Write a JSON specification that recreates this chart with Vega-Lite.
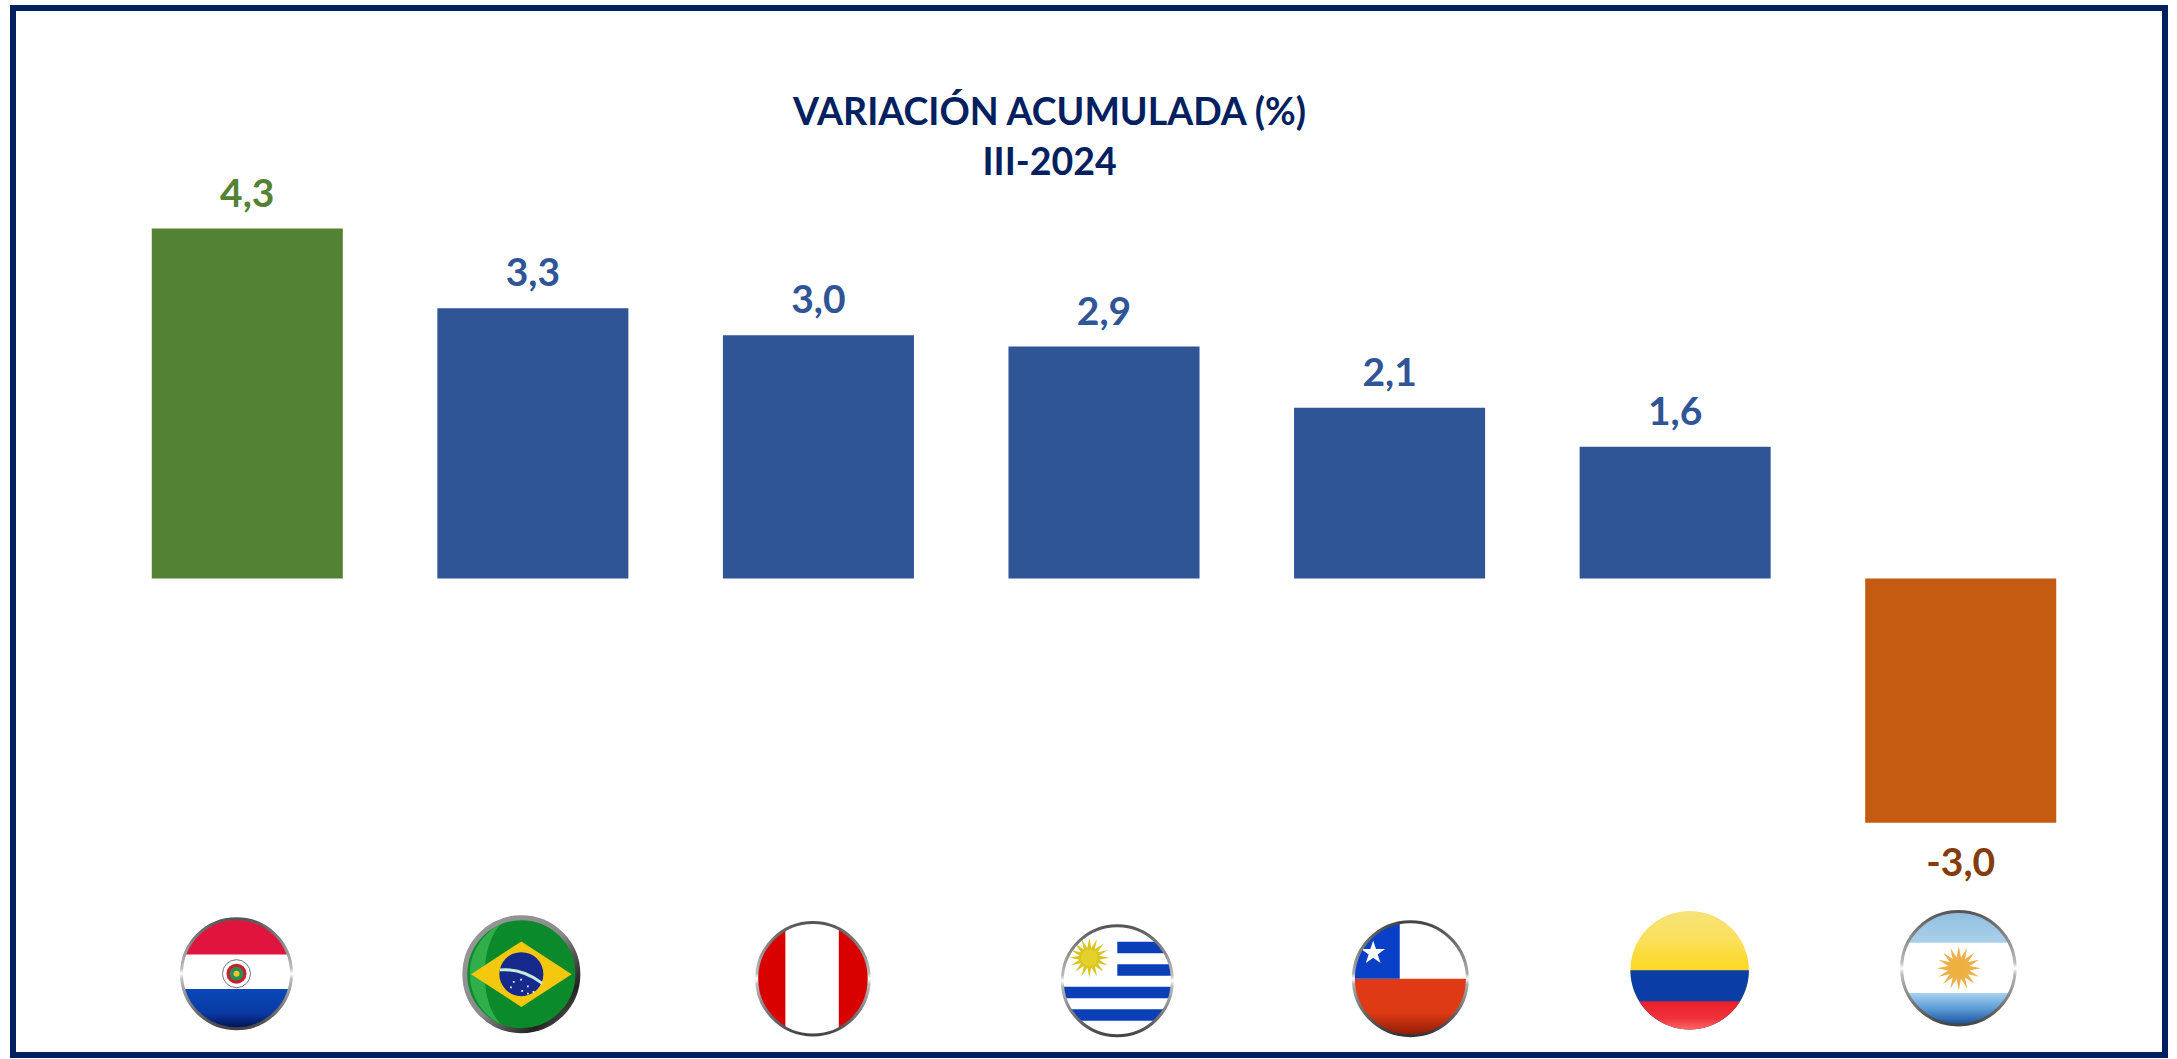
{"$schema":"https://vega.github.io/schema/vega-lite/v6.json","width":2152,"height":1047,"autosize":{"type":"none"},"padding":{"left":13,"top":8,"right":12,"bottom":4},"background":"#ffffff","view":{"stroke":"#002060","strokeWidth":6,"fill":"#ffffff"},"config":{"point":{"opacity":1,"filled":true}},"title":{"text":["VARIACIÓN ACUMULADA (%)","III-2024"],"font":"Lato","fontSize":37.5,"fontWeight":"bold","color":"#002060","anchor":"middle","frame":"group","dx":-39.4,"dy":204,"lineHeight":50,"offset":0,"baseline":"alphabetic"},"data":{"values":[{"pais":"Paraguay","valor":4.3,"etiqueta":"4,3","categoria":"máximo"},{"pais":"Brasil","valor":3.32,"etiqueta":"3,3","categoria":"positivo"},{"pais":"Perú","valor":2.99,"etiqueta":"3,0","categoria":"positivo"},{"pais":"Uruguay","valor":2.85,"etiqueta":"2,9","categoria":"positivo"},{"pais":"Chile","valor":2.1,"etiqueta":"2,1","categoria":"positivo"},{"pais":"Colombia","valor":1.62,"etiqueta":"1,6","categoria":"positivo"},{"pais":"Argentina","valor":-3.0,"etiqueta":"-3,0","categoria":"negativo"}]},"encoding":{"x":{"field":"pais","type":"nominal","sort":null,"axis":null,"scale":{"type":"band","domain":["Paraguay","Brasil","Perú","Uruguay","Chile","Colombia","Argentina"],"range":[91.5,2090.5],"paddingInner":0.331,"paddingOuter":0.1655}}},"resolve":{"scale":{"color":"independent"}},"layer":[{"mark":{"type":"bar"},"encoding":{"y":{"field":"valor","type":"quantitative","axis":null,"scale":{"domain":[-5.853,7.01],"nice":false,"zero":false}},"color":{"field":"categoria","type":"nominal","legend":null,"scale":{"domain":["máximo","positivo","negativo"],"range":["#548235","#2F5597","#C55A11"]}}}},{"transform":[{"filter":"datum.valor > 0"}],"mark":{"type":"text","font":"Lato","fontWeight":"bold","fontSize":39,"align":"center","baseline":"alphabetic","dy":-22},"encoding":{"y":{"field":"valor","type":"quantitative","axis":null},"text":{"field":"etiqueta","type":"nominal"},"color":{"field":"categoria","type":"nominal","legend":null,"scale":{"domain":["máximo","positivo","negativo"],"range":["#548235","#2F5597","#843C0C"]}}}},{"transform":[{"filter":"datum.valor < 0"}],"mark":{"type":"text","font":"Lato","fontWeight":"bold","fontSize":39,"align":"center","baseline":"alphabetic","dy":53,"color":"#843C0C"},"encoding":{"y":{"field":"valor","type":"quantitative","axis":null},"text":{"field":"etiqueta","type":"nominal"}}},
{"data":{"values":[{"pais":"Paraguay"}]},"encoding":{"y":{"datum":-4.854,"type":"quantitative","axis":null}},"layer":[
{"mark":{"type":"point","shape":"circle","size":12100,"xOffset":-10.8,"fill":"#e0143c"}},
{"mark":{"type":"point","shape":"M.937 -.35C1.181 .303 .697 1 0 1C-.697 1 -1.181 .303 -.937 -.35Z","size":12100,"xOffset":-10.8,"fill":"#ffffff"}},
{"mark":{"type":"point","shape":"M.96 .28C.836 .706 .444 1 0 1C-.444 1 -.836 .706 -.96 .28Z","size":12100,"xOffset":-10.8,"fill":{"gradient":"linear","x1":0,"y1":0,"x2":0,"y2":1,"stops":[{"offset":0,"color":"#0a48b8"},{"offset":0.6,"color":"#0a3aa5"},{"offset":1,"color":"#03104f"}]}}},
{"mark":{"type":"point","shape":"circle","size":784,"xOffset":-10.8,"fill":"#ffffff","stroke":"#777777","strokeWidth":1}},
{"mark":{"type":"point","shape":"circle","size":400,"xOffset":-10.8,"fill":"#c8202a"}},
{"mark":{"type":"point","shape":"circle","size":196,"xOffset":-10.8,"fill":"#2e8b57"}},
{"mark":{"type":"point","shape":"circle","size":36,"xOffset":-10.8,"fill":"#e8c820"}},
{"mark":{"type":"point","shape":"circle","size":12100,"xOffset":-10.8,"fill":"transparent","strokeWidth":3,"stroke":{"gradient":"linear","x1":0,"y1":0,"x2":0,"y2":1,"stops":[{"offset":0,"color":"#555555"},{"offset":0.45,"color":"#bbbbbb"},{"offset":0.5,"color":"#ffffff"},{"offset":0.55,"color":"#bbbbbb"},{"offset":1,"color":"#444444"}]}}}]},
{"data":{"values":[{"pais":"Brasil"}]},"encoding":{"y":{"datum":-4.86,"type":"quantitative","axis":null}},"layer":[
{"mark":{"type":"point","shape":"circle","size":12769,"xOffset":-11.5,"fill":"#0a8a2a"}},
{"mark":{"type":"point","shape":"M-.35 -.9C-1.1 -.5 -1.1 .5 -.35 .9C-.75 .5 -.75 -.5 -.35 -.9Z","size":12769,"xOffset":-11.5,"fill":"#2fae4a"}},
{"mark":{"type":"point","shape":"M-.89 0L0 -.58 .89 0 0 .58Z","size":12769,"xOffset":-11.5,"fill":"#f5c70e"}},
{"mark":{"type":"point","shape":"circle","size":1936,"xOffset":-11.5,"fill":"#152a8c"}},
{"mark":{"type":"point","shape":"M-.38 -.1Q.02 -.14 .38 .14L.37 .19Q0 -.08 -.38 -.05Z","size":12769,"xOffset":-11.5,"fill":"#c8ecd8"}},
{"mark":{"type":"point","shape":"M-.15 .12h.03v.03h-.03ZM-.02 .08h.03v.03h-.03ZM.1 .2h.03v.03h-.03ZM-.2 .22h.03v.03h-.03ZM0 .28h.03v.03h-.03ZM.2 .3h.03v.03h-.03ZM.1 .33h.03v.03h-.03Z","size":12769,"xOffset":-11.5,"fill":"#ffffff"}},
{"mark":{"type":"point","shape":"circle","size":12769,"xOffset":-11.5,"fill":"transparent","strokeWidth":5,"stroke":{"gradient":"linear","x1":0,"y1":0,"x2":1,"y2":1,"stops":[{"offset":0,"color":"#9a9a9a"},{"offset":0.5,"color":"#8a8a8a"},{"offset":0.8,"color":"#222222"},{"offset":1,"color":"#777777"}]}}}]},
{"data":{"values":[{"pais":"Perú"}]},"encoding":{"y":{"datum":-4.916,"type":"quantitative","axis":null}},"layer":[
{"mark":{"type":"point","shape":"circle","size":12656,"xOffset":-5.5,"fill":"#ffffff"}},
{"mark":{"type":"point","shape":"M.46 -.888C.792 -.716 1 -.3735 1 0C1 .3735 .792 .716 .46 .888Z","size":12656,"xOffset":-5.5,"fill":"#d90000"}},
{"mark":{"type":"point","shape":"M-.49 -.872C-.805 -.695 -1 -.3615 -1 0C-1 .3615 -.805 .695 -.49 .872Z","size":12656,"xOffset":-5.5,"fill":"#d90000"}},
{"mark":{"type":"point","shape":"circle","size":12656,"xOffset":-5.5,"fill":"transparent","strokeWidth":3,"stroke":{"gradient":"linear","x1":0,"y1":0,"x2":0,"y2":1,"stops":[{"offset":0,"color":"#555555"},{"offset":0.45,"color":"#bbbbbb"},{"offset":0.5,"color":"#ffffff"},{"offset":0.55,"color":"#bbbbbb"},{"offset":1,"color":"#444444"}]}}}]},
{"data":{"values":[{"pais":"Uruguay"}]},"encoding":{"y":{"datum":-4.94,"type":"quantitative","axis":null}},"layer":[
{"mark":{"type":"point","shape":"circle","size":12100,"xOffset":13.3,"fill":"#ffffff"}},
{"mark":{"type":"point","shape":"M0 -.71L.704 -.71L.866 -.5L0 -.5ZM0 -.3L.954 -.3L.996 -.09L0 -.09ZM-.994 .11L.994 .11L.947 .32L-.947 .32ZM-.854 .52L.854 .52L.683 .73L-.683 .73Z","size":12100,"xOffset":13.3,"fill":"#0a3fb8"}},
{"mark":{"type":"point","shape":"M1 0L.49 .098 .924 .383 .416 .278 .707 .707 .278 .416 .383 .924 .098 .49 0 1 -.098 .49 -.383 .924 -.278 .416 -.707 .707 -.416 .278 -.924 .383 -.49 .098 -1 0 -.49 -.098 -.924 -.383 -.416 -.278 -.707 -.707 -.278 -.416 -.383 -.924 -.098 -.49 0 -1 .098 -.49 .383 -.924 .278 -.416 .707 -.707 .416 -.278 .924 -.383 .49 -.098Z","size":1600,"xOffset":-14.7,"yOffset":-23,"fill":"#d9c520"}},
{"mark":{"type":"point","shape":"circle","size":289,"xOffset":-14.7,"yOffset":-23,"fill":"#e3d02c"}},
{"mark":{"type":"point","shape":"circle","size":12100,"xOffset":13.3,"fill":"transparent","strokeWidth":3,"stroke":{"gradient":"linear","x1":0,"y1":0,"x2":0,"y2":1,"stops":[{"offset":0,"color":"#555555"},{"offset":0.45,"color":"#bbbbbb"},{"offset":0.5,"color":"#ffffff"},{"offset":0.55,"color":"#bbbbbb"},{"offset":1,"color":"#444444"}]}}}]},
{"data":{"values":[{"pais":"Chile"}]},"encoding":{"y":{"datum":-4.916,"type":"quantitative","axis":null}},"layer":[
{"mark":{"type":"point","shape":"circle","size":12996,"xOffset":20.8,"fill":"#ffffff"}},
{"mark":{"type":"point","shape":"M1 0C1 .552 .552 1 0 1C-.552 1 -1 .552 -1 0Z","size":12996,"xOffset":20.8,"fill":{"gradient":"linear","x1":0,"y1":0,"x2":0,"y2":1,"stops":[{"offset":0,"color":"#e03a15"},{"offset":0.6,"color":"#dd3a14"},{"offset":1,"color":"#8f1a05"}]}}},
{"mark":{"type":"point","shape":"M-.186 -.982C-.657 -.893 -1 -.48 -1 0L-.186 0Z","size":12996,"xOffset":20.8,"fill":"#0a3fc8"}},
{"mark":{"type":"point","shape":"M0 -1L.225 -.309 .951 -.309 .363 .118 .588 .809 0 .382 -.588 .809 -.363 .118 -.951 -.309 -.225 -.309Z","size":625,"xOffset":-16.4,"yOffset":-25.8,"fill":"#ffffff"}},
{"mark":{"type":"point","shape":"circle","size":12996,"xOffset":20.8,"fill":"transparent","strokeWidth":3,"stroke":{"gradient":"linear","x1":0,"y1":0,"x2":0,"y2":1,"stops":[{"offset":0,"color":"#444444"},{"offset":0.45,"color":"#aaaaaa"},{"offset":0.5,"color":"#ffffff"},{"offset":0.55,"color":"#aaaaaa"},{"offset":1,"color":"#333333"}]}}}]},
{"data":{"values":[{"pais":"Colombia"}]},"encoding":{"y":{"datum":-4.811,"type":"quantitative","axis":null}},"layer":[
{"mark":{"type":"point","shape":"circle","size":14042,"xOffset":14.5,"fill":{"gradient":"linear","x1":0,"y1":0,"x2":0,"y2":1,"stops":[{"offset":0,"color":"#f7e27a"},{"offset":0.25,"color":"#fbe05a"},{"offset":0.45,"color":"#fcd92a"},{"offset":1,"color":"#fcd92a"}]}}},
{"mark":{"type":"point","shape":"M1 0C1 .552 .552 1 0 1C-.552 1 -1 .552 -1 0Z","size":14042,"xOffset":14.5,"fill":"#0a3ea6"}},
{"mark":{"type":"point","shape":"M.851 .525C.669 .82 .347 1 0 1C-.347 1 -.669 .82 -.851 .525Z","size":14042,"xOffset":14.5,"fill":{"gradient":"linear","x1":0,"y1":0,"x2":0,"y2":1,"stops":[{"offset":0,"color":"#e8202a"},{"offset":0.6,"color":"#f0323a"},{"offset":1,"color":"#ff6468"}]}}}]},
{"data":{"values":[{"pais":"Argentina"}]},"encoding":{"y":{"datum":-4.787,"type":"quantitative","axis":null}},"layer":[
{"mark":{"type":"point","shape":"circle","size":12882,"xOffset":-2.3,"fill":{"gradient":"linear","x1":0,"y1":0,"x2":0,"y2":1,"stops":[{"offset":0,"color":"#8fbde0"},{"offset":0.25,"color":"#a8cfea"},{"offset":1,"color":"#a8cfea"}]}}},
{"mark":{"type":"point","shape":"M.894 -.448C1.227 .217 .744 1 0 1C-.744 1 -1.227 .217 -.894 -.448Z","size":12882,"xOffset":-2.3,"fill":"#ffffff"}},
{"mark":{"type":"point","shape":"M.899 .437C.732 .781 .383 1 0 1C-.383 1 -.732 .781 -.899 .437Z","size":12882,"xOffset":-2.3,"fill":{"gradient":"linear","x1":0,"y1":0,"x2":0,"y2":1,"stops":[{"offset":0,"color":"#a9d2f0"},{"offset":0.5,"color":"#5a9ad5"},{"offset":1,"color":"#1a4f9c"}]}}},
{"mark":{"type":"point","shape":"M1 0L.49 .098 .924 .383 .416 .278 .707 .707 .278 .416 .383 .924 .098 .49 0 1 -.098 .49 -.383 .924 -.278 .416 -.707 .707 -.416 .278 -.924 .383 -.49 .098 -1 0 -.49 -.098 -.924 -.383 -.416 -.278 -.707 -.707 -.278 -.416 -.383 -.924 -.098 -.49 0 -1 .098 -.49 .383 -.924 .278 -.416 .707 -.707 .416 -.278 .924 -.383 .49 -.098Z","size":1936,"xOffset":-1.9,"fill":"#eeb04a"}},
{"mark":{"type":"point","shape":"circle","size":324,"xOffset":-1.9,"fill":"#f0b040"}},
{"mark":{"type":"point","shape":"circle","size":12882,"xOffset":-2.3,"fill":"transparent","strokeWidth":3,"stroke":{"gradient":"linear","x1":0,"y1":0,"x2":0,"y2":1,"stops":[{"offset":0,"color":"#555555"},{"offset":0.45,"color":"#bbbbbb"},{"offset":0.5,"color":"#ffffff"},{"offset":0.55,"color":"#bbbbbb"},{"offset":1,"color":"#444444"}]}}}]}
]}
